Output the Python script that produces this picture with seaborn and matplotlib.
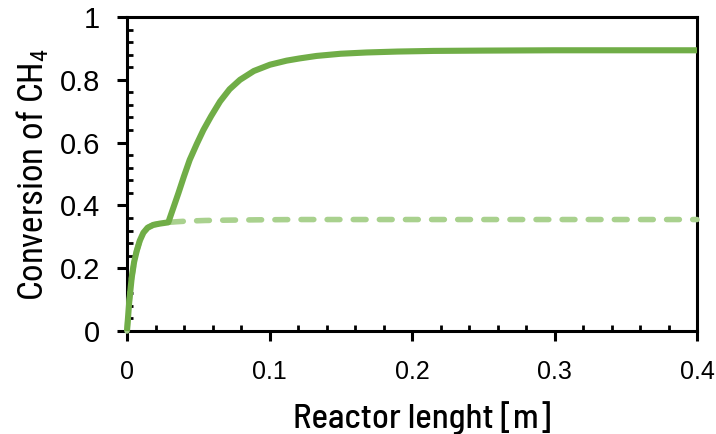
import numpy as np
import pandas as pd
import matplotlib
matplotlib.use("Agg")
import matplotlib.pyplot as plt
from matplotlib.ticker import MultipleLocator
import seaborn as sns

# Data
length_solid = [0.0, 0.0016, 0.0033, 0.005, 0.0068, 0.009, 0.0115, 0.0145, 0.0185, 0.023,
                0.029, 0.0325, 0.036, 0.040, 0.044, 0.049, 0.0536, 0.059, 0.0653, 0.072,
                0.0793, 0.089, 0.1003, 0.112, 0.121, 0.133, 0.150, 0.168, 0.190, 0.215,
                0.25, 0.30, 0.35, 0.40]
conv_solid = [0.0, 0.095, 0.17, 0.22, 0.255, 0.288, 0.313, 0.329, 0.338, 0.342,
              0.346, 0.392, 0.438, 0.493, 0.545, 0.596, 0.640, 0.684, 0.731, 0.770,
              0.800, 0.828, 0.848, 0.861, 0.868, 0.876, 0.883, 0.887, 0.890, 0.892,
              0.893, 0.894, 0.894, 0.894]

length_dash = [0.0, 0.0016, 0.0033, 0.005, 0.0068, 0.009, 0.0115, 0.0145, 0.0185, 0.023,
               0.029, 0.035, 0.042, 0.055, 0.07, 0.09, 0.12, 0.16, 0.20, 0.30, 0.40]
conv_dash = [0.0, 0.095, 0.17, 0.22, 0.255, 0.288, 0.313, 0.329, 0.338, 0.342,
             0.346, 0.348, 0.350, 0.352, 0.353, 0.354, 0.355, 0.355, 0.355, 0.355, 0.355]

x_ticks = [0, 0.1, 0.2, 0.3, 0.4]
x_ticklabels = ["0", "0.1", "0.2", "0.3", "0.4"]
y_ticks = [0, 0.2, 0.4, 0.6, 0.8, 1.0]
y_ticklabels = ["0", "0.2", "0.4", "0.6", "0.8", "1"]

sns.set_style("white")
plt.rcParams["font.family"] = ["Liberation Sans", "DejaVu Sans"]
plt.rcParams["mathtext.default"] = "regular"

fig = plt.figure(figsize=(7.16, 4.34), dpi=100)
ax = fig.add_axes([127/716, (434-331)/434, (697-127)/716, (331-17)/434])

df_dash = pd.DataFrame({"x": length_dash, "y": conv_dash})
df_solid = pd.DataFrame({"x": length_solid, "y": conv_solid})

sns.lineplot(data=df_dash, x="x", y="y", ax=ax, color="#a9d18e", linewidth=4.0,
             estimator=None, sort=False)
l = ax.lines[-1]
l.set_dashes((2.3, 2.4))
l.set_dash_capstyle("round")
sns.lineplot(data=df_solid, x="x", y="y", ax=ax, color="#70ad47", linewidth=4.4,
             estimator=None, sort=False)
ax.lines[-1].set_solid_capstyle("butt")
ax.lines[-1].set_solid_joinstyle("round")
for ln in ax.lines:
    ln.set_clip_on(False)

ax.set_xlim(0, 0.4)
ax.set_ylim(0, 1)
ax.set_xticks(x_ticks)
ax.set_xticklabels(x_ticklabels)
ax.set_yticks(y_ticks)
ax.set_yticklabels(y_ticklabels)
ax.xaxis.set_minor_locator(MultipleLocator(0.02))
ax.yaxis.set_minor_locator(MultipleLocator(0.04))

for s in ax.spines.values():
    s.set_visible(True)
    s.set_color("black")
    s.set_linewidth(2.2)
    s.set_zorder(1)

ax.tick_params(axis="both", which="major", direction="out", length=7, width=2.2,
               color="black", labelcolor="black", bottom=True, left=True, top=False, right=False)
ax.tick_params(axis="y", which="major", labelsize=21, pad=12.5)
ax.tick_params(axis="x", which="major", labelsize=18, pad=14)
ax.tick_params(axis="both", which="minor", direction="in", length=4, width=2.0,
               color="black", bottom=True, left=True, top=False, right=False)

ax.set_xlabel("Reactor lenght [m]", fontsize=25, color="black",
              family=["Barlow Semi Condensed", "DejaVu Sans"], fontweight=500)
ax.set_ylabel("Conversion of CH$_4$", fontsize=25, color="black",
              family=["Roboto Condensed", "DejaVu Sans"], fontweight="normal")
ax.xaxis.label.set_verticalalignment("baseline")
ax.xaxis.set_label_coords(0.517, -0.309)
ax.yaxis.set_label_coords(-0.133, 0.5)

fig.savefig("out.png", dpi=100)
